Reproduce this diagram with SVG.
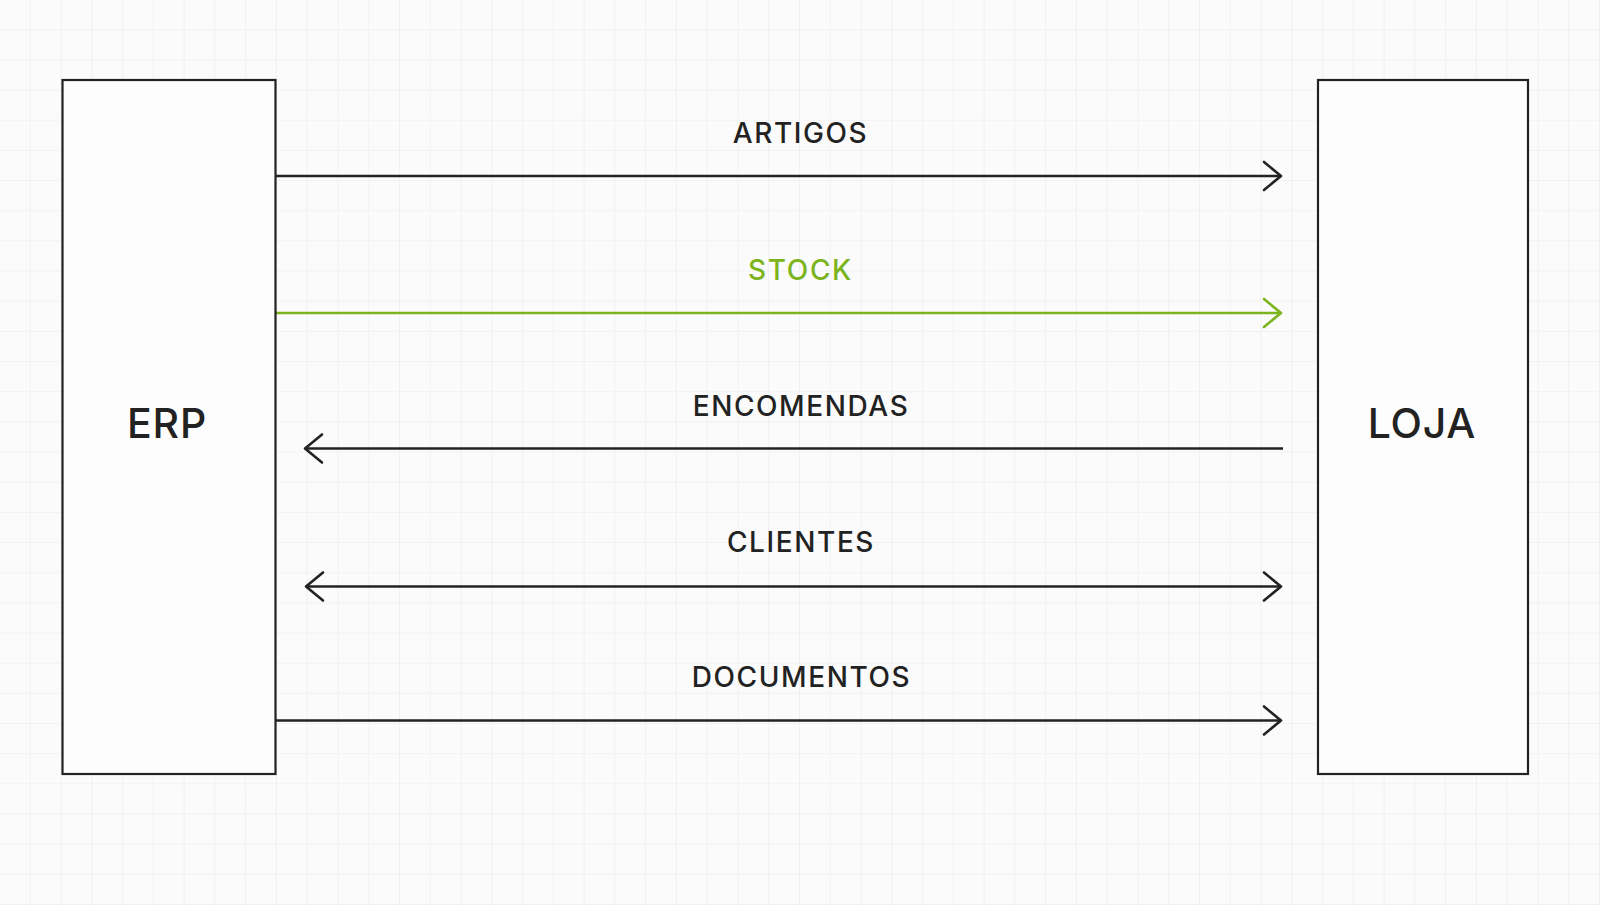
<svg xmlns="http://www.w3.org/2000/svg" width="1600" height="905" viewBox="0 0 1600 905">
  <style>
    .box { fill: #fdfdfd; stroke: #222222; stroke-width: 2.2; }
    .title { font-family: Inter, "Liberation Sans", sans-serif; font-size: 41px; fill: #222222; text-anchor: middle; font-weight: 500; letter-spacing: 0.8px; }
    .lbl { font-family: Inter, "Liberation Sans", sans-serif; font-size: 28px; fill: #222222; text-anchor: middle; letter-spacing: 1.6px; font-weight: 450; }
    .lbl.green { fill: #7bb41c; }
    .conn { fill: none; stroke: #222222; stroke-width: 2.5; }
    .conn.green { stroke: #7bb41c; }
  </style>
  <defs>
    <pattern id="grid" width="30.769" height="30.167" patternUnits="userSpaceOnUse">
      <path d="M30.769 0 V30.167 M0 30.167 H30.769" fill="none" stroke="#efefef" stroke-width="1.6"/>
    </pattern>
    <marker id="arrDark" viewBox="-22 -17 26 34" refX="0" refY="0" markerWidth="26" markerHeight="34" markerUnits="userSpaceOnUse" orient="auto-start-reverse">
      <path d="M-17,-14 L0,0 L-17,14" fill="none" stroke="#222222" stroke-width="2.6" stroke-linejoin="round" stroke-linecap="round"/>
    </marker>
    <marker id="arrGreen" viewBox="-22 -17 26 34" refX="0" refY="0" markerWidth="26" markerHeight="34" markerUnits="userSpaceOnUse" orient="auto-start-reverse">
      <path d="M-17,-14 L0,0 L-17,14" fill="none" stroke="#7bb41c" stroke-width="2.6" stroke-linejoin="round" stroke-linecap="round"/>
    </marker>
  </defs>
  <rect x="0" y="0" width="1600" height="905" fill="#fbfbfb"/>
  <rect x="0" y="0" width="1600" height="905" fill="url(#grid)"/>

  <g id="connectors">
    <g id="conn-artigos">
      <line class="conn" x1="276" y1="176" x2="1281" y2="176" marker-end="url(#arrDark)"/>
      <text class="lbl" x="800.5" y="142.5">ARTIGOS</text>
    </g>
    <g id="conn-stock">
      <line class="conn green" x1="276" y1="313" x2="1281" y2="313" marker-end="url(#arrGreen)"/>
      <text class="lbl green" x="800.5" y="279.5">STOCK</text>
    </g>
    <g id="conn-encomendas">
      <line class="conn" x1="305" y1="448.5" x2="1283" y2="448.5" marker-start="url(#arrDark)"/>
      <text class="lbl" x="801" y="416">ENCOMENDAS</text>
    </g>
    <g id="conn-clientes">
      <line class="conn" x1="306" y1="586.5" x2="1281" y2="586.5" marker-start="url(#arrDark)" marker-end="url(#arrDark)"/>
      <text class="lbl" x="801" y="551.5">CLIENTES</text>
    </g>
    <g id="conn-documentos">
      <line class="conn" x1="276" y1="720.5" x2="1281" y2="720.5" marker-end="url(#arrDark)"/>
      <text class="lbl" x="801.5" y="686.5">DOCUMENTOS</text>
    </g>
  </g>

  <g id="node-erp">
    <rect class="box" x="62.5" y="80" width="213" height="694"/>
    <text class="title" x="167" y="438">ERP</text>
  </g>
  <g id="node-loja">
    <rect class="box" x="1318" y="80" width="210" height="694"/>
    <text class="title" x="1422" y="438">LOJA</text>
  </g>
</svg>
